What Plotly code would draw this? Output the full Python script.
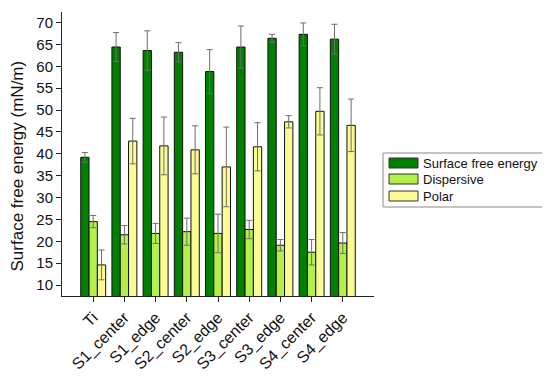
import plotly.graph_objects as go

categories = ["Ti", "S1_center", "S1_edge", "S2_center", "S2_edge",
              "S3_center", "S3_edge", "S4_center", "S4_edge"]
sfe = [39.2, 64.4, 63.6, 63.2, 58.8, 64.4, 66.4, 67.3, 66.2]
sfe_err = [1.1, 3.3, 4.5, 2.2, 5.0, 4.8, 0.9, 2.6, 3.4]
dispersive = [24.5, 21.5, 21.8, 22.2, 21.8, 22.7, 19.1, 17.5, 19.6]
dispersive_err = [1.4, 2.1, 2.3, 3.1, 4.4, 2.1, 1.3, 2.9, 2.4]
polar = [14.6, 42.9, 41.8, 40.9, 37.0, 41.6, 47.3, 49.7, 46.5]
polar_err = [3.4, 5.2, 6.6, 5.5, 9.1, 5.5, 1.4, 5.4, 6.0]
series_names = ["Surface free energy", "Dispersive", "Polar"]
series_colors = ["#008000", "#b5f04a", "#fbfb96"]
y_title = "Surface free energy (mN/m)"

# The page body has an 8px default margin, so the figure is drawn 8px in
# from the top-left corner of the window; size it to fill the rest.
OFF = 8
W, H = 550 - OFF, 383 - OFF
ML, MT = 62 - OFF, 12 - OFF
MR = W - (374 - OFF)
MB = H - (296 - OFF)
PW, PH = W - ML - MR, H - MT - MB


def px_x(px):
    return (px - OFF - ML) / PW


def px_y(py):
    return (H - MB - (py - OFF)) / PH


fig = go.Figure()
for name, vals, errs, color in zip(series_names, [sfe, dispersive, polar],
                                   [sfe_err, dispersive_err, polar_err],
                                   series_colors):
    fig.add_trace(go.Bar(
        name=name, x=categories, y=vals,
        marker=dict(color=color, line=dict(color="#111111", width=1)),
        error_y=dict(type="data", array=errs, visible=True,
                     color="#6e6e6e", thickness=1, width=3),
    ))

# custom legend (box, swatches, labels)
shapes = [dict(type="rect", xref="paper", yref="paper",
               x0=px_x(383), x1=px_x(544), y0=px_y(153), y1=px_y(207),
               line=dict(color="#8a8a8a", width=1), fillcolor="white")]
annotations = []
row_centers = [163, 179, 196]
for name, color, cy in zip(series_names, series_colors, row_centers):
    shapes.append(dict(type="rect", xref="paper", yref="paper",
                       x0=px_x(389), x1=px_x(418),
                       y0=px_y(cy + 5), y1=px_y(cy - 5),
                       line=dict(color="#333333", width=1), fillcolor=color))
    annotations.append(dict(xref="paper", yref="paper", x=px_x(421), y=px_y(cy),
                            xanchor="left", yanchor="middle", showarrow=False,
                            text=name, font=dict(size=13, color="#111111")))

# y-axis title
annotations.append(dict(xref="paper", yref="paper", x=px_x(17.5), y=px_y(166),
                        xanchor="center", yanchor="middle", showarrow=False,
                        textangle=-90, text=y_title,
                        font=dict(size=17, color="#111111")))

fig.update_layout(
    width=W, height=H,
    margin=dict(l=ML, r=MR, t=MT, b=MB, autoexpand=False),
    paper_bgcolor="white", plot_bgcolor="white",
    barmode="group", bargap=0.2, bargroupgap=0,
    font=dict(family="Liberation Sans, Arial", size=14, color="#111111"),
    showlegend=False,
    shapes=shapes, annotations=annotations,
)
fig.update_yaxes(
    range=[7.5, 72.4], tickmode="array",
    tickvals=[10, 15, 20, 25, 30, 35, 40, 45, 50, 55, 60, 65, 70],
    showline=True, linecolor="#222222", linewidth=1,
    ticks="outside", ticklen=5, tickcolor="#222222",
    showgrid=False, zeroline=False, automargin=False,
    tickfont=dict(size=15),
)
fig.update_xaxes(
    range=[-1, 9], automargin=False,
    showline=True, linecolor="#222222", linewidth=1,
    ticks="outside", ticklen=5, tickcolor="#222222",
    tickangle=-45, tickfont=dict(size=16),
    showgrid=False,
)

fig.write_html("out.html")
